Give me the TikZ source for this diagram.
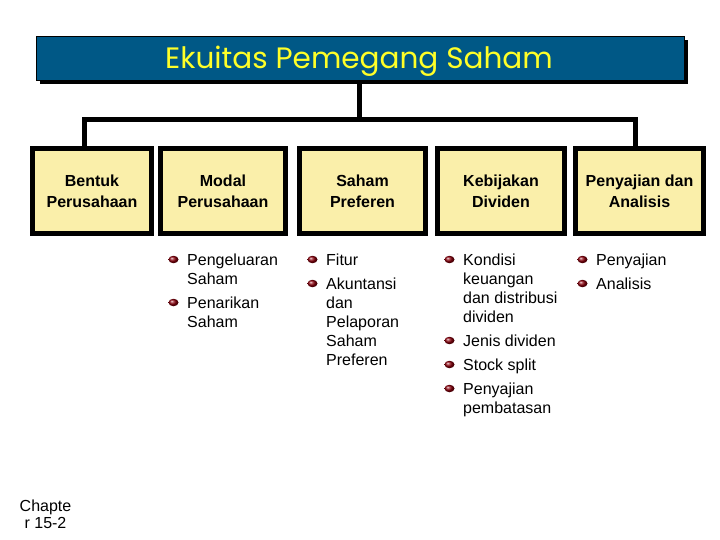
\documentclass[tikz,border=0pt]{standalone}
\usepackage{fontspec}
\setmainfont{Liberation Sans}
\newfontfamily\titlefont{Poppins}
\usetikzlibrary{calc,shapes.geometric}
\definecolor{titleblue}{RGB}{0,88,134}
\definecolor{boxfill}{RGB}{250,239,170}
\definecolor{titleyellow}{RGB}{255,255,40}
\definecolor{bulletred}{RGB}{140,0,12}
\tikzset{
  titlebox/.style={draw=black,line width=0.8pt,fill=titleblue,minimum width=648pt,minimum height=44pt,inner sep=0pt},
  titletext/.style={inner sep=0pt,font=\titlefont\fontsize{29.5}{30}\selectfont,text=titleyellow},
  conn/.style={draw=black,line width=5pt,line join=miter},
  topicbox/.style={draw=black,line width=5pt,fill=boxfill,minimum height=85pt,inner sep=0pt,align=center,
    font=\bfseries\fontsize{16}{21}\selectfont},
  itm/.style={anchor=north west,inner sep=0pt,align=left,font=\fontsize{16}{19}\selectfont},
  bul/.style={ellipse,minimum width=10pt,minimum height=7.5pt,inner sep=0pt,shading=ball,ball color=bulletred},
  chap/.style={align=center,inner sep=0pt,font=\fontsize{16}{17}\selectfont}
}
\newcommand\itm[4]{\node[bul] (#1b) at (#2-13.5,#3-5.5) {};\node[itm] (#1) at (#2,#3-13.3) {\strut #4};}
\begin{document}
\begin{tikzpicture}[x=1pt,y=-1pt]
\useasboundingbox (0,0) rectangle (720,540);
% connector coordinates
\coordinate (barC) at (359,119.5);
\coordinate (barL) at (84,119.5);
\coordinate (barR) at (635,119.5);
% boxes
\node[topicbox,minimum width=119pt] (b1) at (92,191) {Bentuk\\Perusahaan};
\node[topicbox,minimum width=125pt] (b2) at (223,191) {Modal\\Perusahaan};
\node[topicbox,minimum width=126pt] (b3) at (362.5,191) {Saham\\Preferen};
\node[topicbox,minimum width=127pt] (b4) at (501,191) {Kebijakan\\Dividen};
\node[topicbox,minimum width=128pt] (b5) at (639.5,191) {Penyajian dan\\Analisis};
\coordinate (tbot) at (359,80);
\draw[conn] (tbot) -- (barC);
\draw[conn] (barL |- b1.north) -- (barL) -- (barR) -- (barR |- b5.north);
% title
\fill[black] (40,40) rectangle (688,84);
\node[titlebox] (title) at (360,58) {};
\node[titletext] (titletxt) at (359,61) {Ekuitas Pemegang Saham};
% lists
\itm{c2a}{187}{265}{Pengeluaran\\Saham}
\itm{c2b}{187}{308}{Penarikan\\Saham}
\itm{c3a}{326}{265}{Fitur}
\itm{c3b}{326}{289}{Akuntansi\\dan\\Pelaporan\\Saham\\Preferen}
\itm{c4a}{463}{265}{Kondisi\\keuangan\\dan distribusi\\dividen}
\itm{c4b}{463}{346}{Jenis dividen}
\itm{c4c}{463}{370}{Stock split}
\itm{c4d}{463}{394}{Penyajian\\pembatasan}
\itm{c5a}{596}{265}{Penyajian}
\itm{c5b}{596}{289}{Analisis}
% chapter
\node[chap] (chap) at (45.5,514) {Chapte\\r 15-2};
\end{tikzpicture}
\end{document}
